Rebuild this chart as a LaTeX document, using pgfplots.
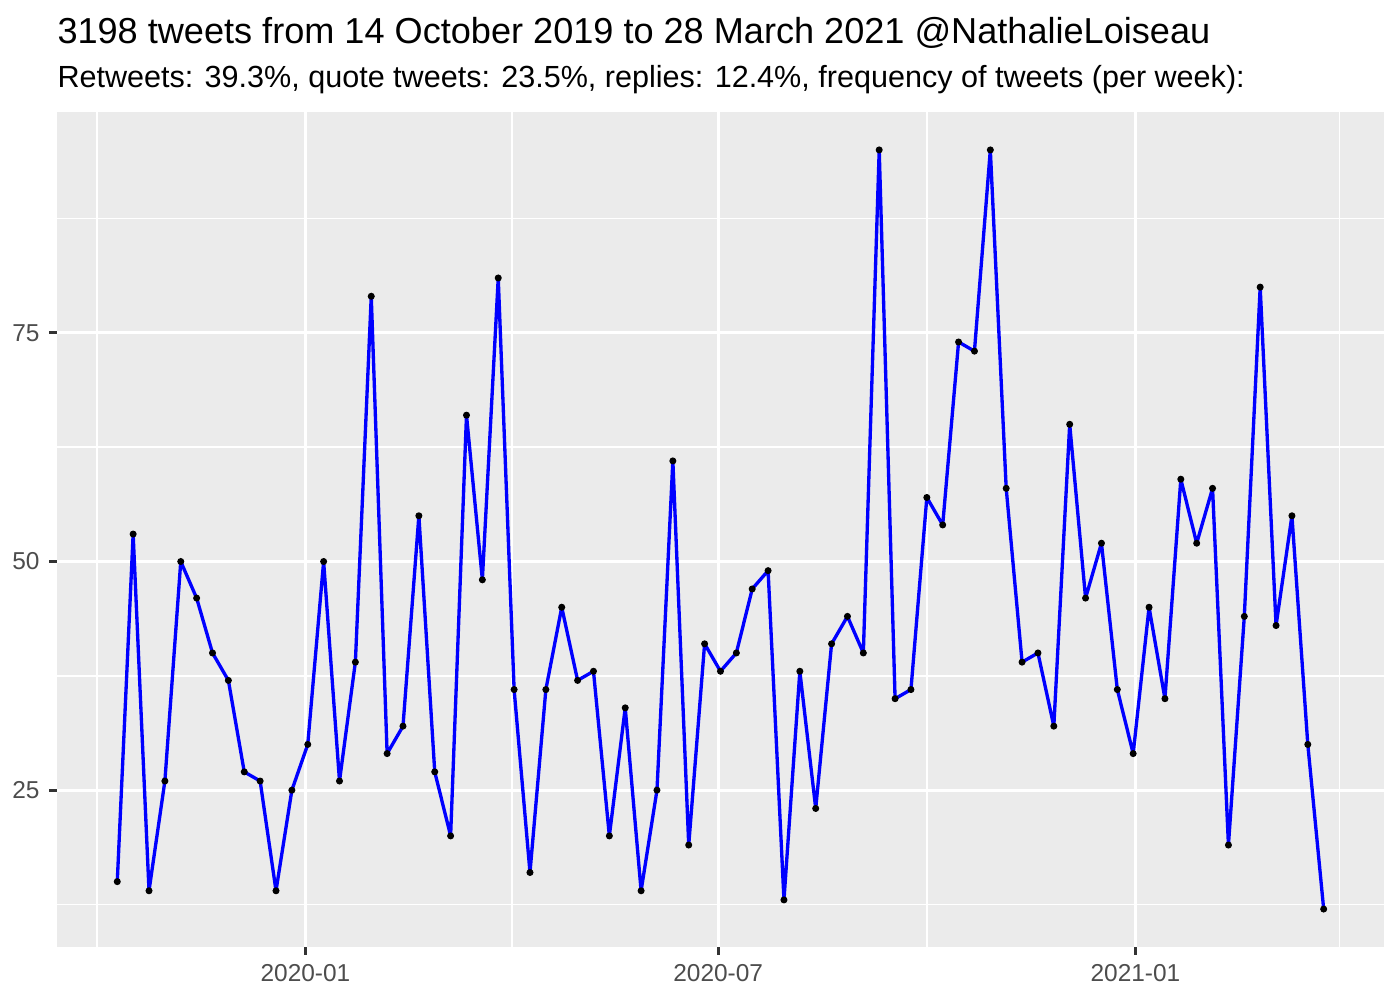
\documentclass[border=0pt]{standalone}
\usepackage{pgfplots}
\pgfplotsset{compat=1.18}
\usepackage{pgfplotstable}
\usepackage{fontspec}
\setmainfont{Liberation Sans}
\definecolor{panel}{HTML}{EBEBEB}
\definecolor{ticklab}{HTML}{4D4D4D}
\definecolor{tickc}{HTML}{333333}
\pgfplotstableread{
x y
-83 15
-76 53
-69 14
-62 26
-55 50
-48 46
-41 40
-34 37
-27 27
-20 26
-13 14
-6 25
1 30
8 50
15 26
22 39
29 79
36 29
43 32
50 55
57 27
64 20
71 66
78 48
85 81
92 36
99 16
106 36
113 45
120 37
127 38
134 20
141 34
148 14
155 25
162 61
169 19
176 41
183 38
190 40
197 47
204 49
211 13
218 38
225 23
232 41
239 44
246 40
253 95
260 35
267 36
274 57
281 54
288 74
295 73
302 95
309 58
316 39
323 40
330 32
337 65
344 46
351 52
358 36
365 29
372 45
379 35
386 59
393 52
400 58
407 19
414 44
421 80
428 43
435 55
442 30
449 12
}\tweets
\begin{document}
\begin{tikzpicture}
\path[use as bounding box] (-20.5pt,-19.1pt) rectangle (483.46pt,340.9pt);
\begin{axis}[
  at={(0,0)}, anchor=south west, scale only axis,
  width=477.7pt, height=300.6pt,
  xmin=-109.6, xmax=475.6, ymin=7.85, ymax=99.15,
  axis background/.style={fill=panel},
  axis line style={draw=none},
  xtick={0,182,366}, xticklabels={2020-01,2020-07,2021-01},
  ytick={25,50,75},
  minor xtick={-92,91,274,456}, minor ytick={12.5,37.5,62.5,87.5},
  grid=both,
  major grid style={white, line width=1.07pt},
  minor grid style={white, line width=0.53pt},
  tick align=outside, major tick length=2.75pt, minor tick length=0pt,
  tick pos=left,
  major tick style={tickc, line width=1.07pt},
  minor tick style={draw=none},
  tick label style={font=\fontsize{8.8}{10}\selectfont, text=ticklab},
  /pgf/number format/assume math mode=true,
]
\addplot[only marks, mark=*, mark size=1.05pt, black] table[x=x,y=y] {\tweets};
\addplot[blue, line width=1.2pt, line join=round, mark=none] table[x=x,y=y] {\tweets};
\end{axis}
\node[anchor=base west, inner sep=0pt] at (0pt,325.4pt) {\fontsize{13}{15}\selectfont 3198 tweets from 14 October 2019 to 28 March 2021 @NathalieLoiseau};
\node[anchor=base west, inner sep=0pt] at (0pt,309.5pt) {\fontsize{11}{13}\selectfont Retweets: 39.3\%, quote tweets: 23.5\%, replies: 12.4\%, frequency of tweets (per week):};
\end{tikzpicture}
\end{document}
